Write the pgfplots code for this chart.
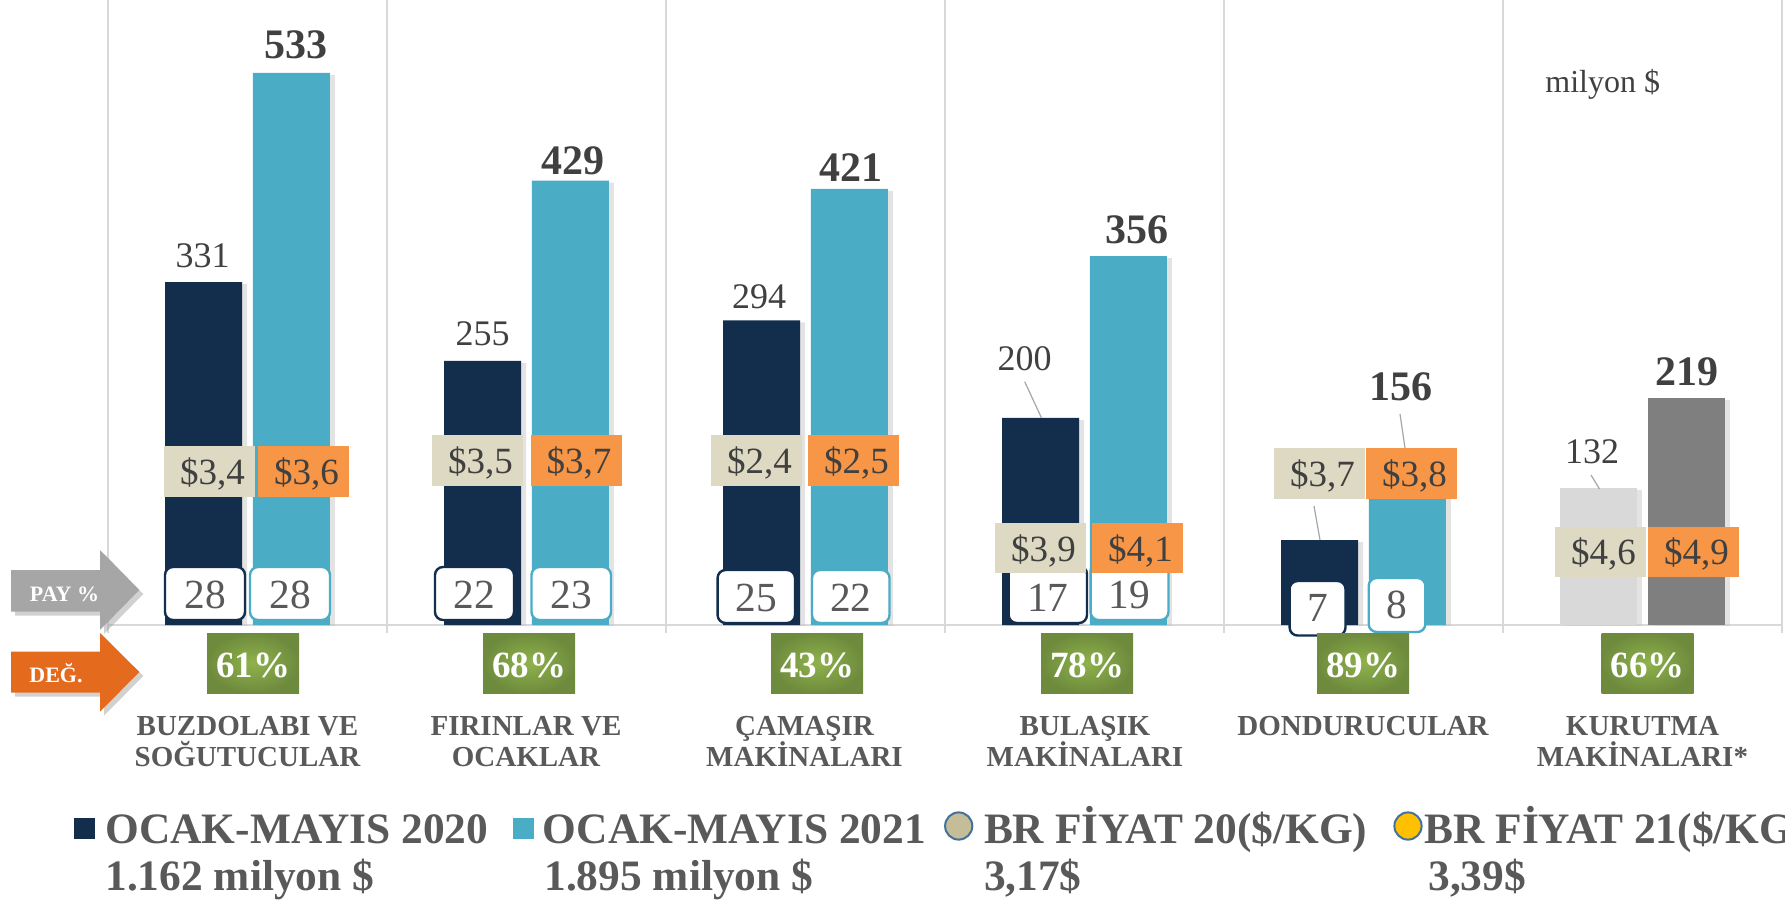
\documentclass[border=0pt]{standalone}
\usepackage{pgfplots}
\pgfplotsset{compat=1.18}
\usepackage{fontspec}
\setmainfont{Liberation Serif}
\usetikzlibrary{shadows}
\definecolor{navy}{HTML}{122E4C}
\definecolor{lblue}{HTML}{4BACC6}
\definecolor{lgray}{HTML}{D9D9D9}
\definecolor{dgray}{HTML}{7F7F7F}
\definecolor{gridgray}{HTML}{D9D9D9}
\definecolor{beige}{HTML}{DDD9C3}
\definecolor{obox}{HTML}{F79646}
\definecolor{ginner}{HTML}{8FB24C}
\definecolor{gouter}{HTML}{6E8B3D}
\definecolor{valtxt}{HTML}{404040}
\definecolor{labtxt}{HTML}{595959}
\definecolor{arrgray}{HTML}{A6A6A6}
\definecolor{arrorange}{HTML}{E46A1E}
\definecolor{legbeige}{HTML}{C4BD97}
\definecolor{legyellow}{HTML}{FFC000}
\definecolor{legborder}{HTML}{41719C}
\definecolor{leader}{HTML}{A6A6A6}
\newcommand{\fs}[1]{\fontsize{#1}{#1}\selectfont}
\begin{document}
\begin{tikzpicture}
\useasboundingbox (0,0) rectangle (892.5pt,451pt);
\begin{axis}[
  at={(54pt,138.5pt)}, anchor=south west,
  scale only axis, width=837pt, height=312.5pt,
  xmin=-0.5, xmax=5.5, ymin=0, ymax=603.3,
  axis x line=bottom, axis y line=none,
  axis line style={-, draw=gridgray, line width=1pt},
  xtick={-0.5,0.5,1.5,2.5,3.5,4.5,5.5}, xticklabels={},
  xmajorgrids, major grid style={draw=gridgray, line width=1pt},
  major tick length=4pt, tick align=outside,
  tick style={draw=gridgray, line width=1pt},
  ytick=\empty,
  ybar, bar width=38.5pt,
]
\addplot[fill=navy, draw=none, bar shift=-21.9pt,
  /tikz/drop shadow={shadow xshift=2.5pt, shadow yshift=-1pt, fill=black!22, draw=none}]
  coordinates {(0,331) (1,255) (2,294) (3,200) (4,82)};
\addplot[fill=lblue, draw=none, bar shift=21.9pt,
  /tikz/drop shadow={shadow xshift=2.5pt, shadow yshift=-1pt, fill=black!22, draw=none}]
  coordinates {(0,533) (1,429) (2,421) (3,356) (4,156)};
\addplot[fill=lgray, draw=none, bar shift=-21.9pt,
  /tikz/drop shadow={shadow xshift=2.5pt, shadow yshift=-1pt, fill=black!22, draw=none}]
  coordinates {(5,132)};
\addplot[fill=dgray, draw=none, bar shift=21.9pt,
  /tikz/drop shadow={shadow xshift=2.5pt, shadow yshift=-1pt, fill=black!22, draw=none}]
  coordinates {(5,219)};
\end{axis}
\begin{scope}[shift={(0pt,451pt)}, x=0.5pt, y=-0.5pt]
% ---- left arrows
\fill[black!40, opacity=0.45] (15,574) -- (104,574) -- (104,554) -- (143.3,594) -- (104,634) -- (104,615.7) -- (15,615.7) -- cycle;
\fill[arrgray] (11,570) -- (100,570) -- (100,550) -- (139.3,590) -- (100,630) -- (100,611.7) -- (11,611.7) -- cycle;
\node[text=white, font=\bfseries\fs{11pt}, anchor=base, inner sep=0] at (64.5,601) {PAY \%};
\fill[black!40, opacity=0.45] (15,655.7) -- (104,655.7) -- (104,637) -- (143.3,676) -- (104,715.7) -- (104,696.7) -- (15,696.7) -- cycle;
\fill[arrorange] (11,651.7) -- (100,651.7) -- (100,633) -- (139.3,672) -- (100,711.7) -- (100,692.7) -- (11,692.7) -- cycle;
\node[text=white, font=\bfseries\fs{11pt}, anchor=base, inner sep=0] at (56,682) {DEĞ.};
% ---- pay % boxes
\tikzset{payn/.style={draw=navy, fill=white, line width=1.2pt, rounded corners=4pt},
         payl/.style={draw=lblue, fill=white, line width=1.2pt, rounded corners=4pt},
         payt/.style={text=labtxt, font=\fs{20.7pt}, anchor=base, inner sep=0}}
\draw[payn] (165,567) rectangle (245,620);   \node[payt] at (205,608.5) {28};
\draw[payl] (250,567) rectangle (330,620);   \node[payt] at (290,608.5) {28};
\draw[payn] (435,567) rectangle (514,620);   \node[payt] at (474.5,608.5) {22};
\draw[payl] (531.5,567) rectangle (611,620); \node[payt] at (571.3,608.5) {23};
\draw[payn] (717.6,570) rectangle (795,623); \node[payt] at (756.3,611.5) {25};
\draw[payl] (812,570) rectangle (889.5,623); \node[payt] at (850.8,611.5) {22};
\draw[payn] (1008.7,566) rectangle (1087,623); \node[payt] at (1047.9,611.5) {17};
\draw[payl] (1090.6,563) rectangle (1168.5,620); \node[payt] at (1129.6,608.5) {19};
\draw[payn] (1289.6,581) rectangle (1345.5,635.5); \node[payt] at (1317.6,621.5) {7};
\draw[payl] (1368.7,578) rectangle (1425.4,632); \node[payt] at (1397,618.5) {8};
% ---- price boxes
\tikzset{prt/.style={text=valtxt, font=\fs{18.5pt}, anchor=base, inner sep=0}}
\fill[beige] (164,446) rectangle (255,497);  \node[prt] at (212.5,484.5) {\$3,4};
\fill[obox] (258,446) rectangle (349,497);   \node[prt] at (306.5,484.5) {\$3,6};
\fill[beige] (432,435) rectangle (523,486);  \node[prt] at (480.5,473.5) {\$3,5};
\fill[obox] (531,435) rectangle (621.5,486); \node[prt] at (579,473.5) {\$3,7};
\fill[beige] (711,435) rectangle (802,486);  \node[prt] at (759.5,473.5) {\$2,4};
\fill[obox] (808,435) rectangle (899,486);   \node[prt] at (856.5,473.5) {\$2,5};
\fill[beige] (995,523) rectangle (1086,573); \node[prt] at (1043.5,561) {\$3,9};
\fill[obox] (1092,523) rectangle (1183,573); \node[prt] at (1140.5,561) {\$4,1};
\fill[beige] (1274,448) rectangle (1365,498.5); \node[prt] at (1322.5,486) {\$3,7};
\fill[obox] (1366,448) rectangle (1457,498.5);  \node[prt] at (1414.5,486) {\$3,8};
\fill[beige] (1555,526.5) rectangle (1646,577); \node[prt] at (1603.5,564.5) {\$4,6};
\fill[obox] (1648,526.5) rectangle (1739,577);  \node[prt] at (1696.5,564.5) {\$4,9};
% ---- leader lines
\draw[leader, line width=0.6pt] (1024.7,381.7) -- (1041.4,417.7);
\draw[leader, line width=0.6pt] (1400,414) -- (1405,448);
\draw[leader, line width=0.6pt] (1314,506) -- (1320,540);
\draw[leader, line width=0.6pt] (1591,475) -- (1599.5,489);
% ---- value labels
\tikzset{vr/.style={text=valtxt, font=\fs{18pt}, anchor=base, inner sep=0},
         vb/.style={text=valtxt, font=\bfseries\fs{21pt}, anchor=base, inner sep=0}}
\node[vr] at (202.5,267) {331};
\node[vb] at (296,58.3) {533};
\node[vr] at (482.5,345) {255};
\node[vb] at (573,175) {429};
\node[vr] at (759,308.3) {294};
\node[vb] at (851,181.7) {421};
\node[vr] at (1024.5,370) {200};
\node[vb] at (1137,243.3) {356};
\node[vb] at (1400.5,400) {156};
\node[vr] at (1592,463) {132};
\node[vb] at (1687,385) {219};
% ---- unit
\node[text=valtxt, font=\fs{16pt}, anchor=base west, inner sep=0] at (1545,92.7) {milyon \$};
% ---- green change boxes
\tikzset{gt/.style={text=white, font=\bfseries\fs{18.5pt}, anchor=base, inner sep=0}}
\foreach \cx/\t in {253/61, 529/68, 817/43, 1087/78, 1363/89, 1647.5/66}{
  \shade[inner color=ginner, outer color=gouter] ({\cx-46},633) rectangle ({\cx+46},693);
  \node[gt] at (\cx,677) {\t\%};
}
% ---- category labels
\tikzset{ct/.style={text=labtxt, font=\bfseries\fs{14.5pt}, anchor=base, inner sep=0}}
\node[ct] at (247.5,735) {BUZDOLABI VE};   \node[ct] at (247.5,766.7) {SOĞUTUCULAR};
\node[ct] at (526,735) {FIRINLAR VE};      \node[ct] at (526,766.7) {OCAKLAR};
\node[ct] at (804.5,735) {ÇAMAŞIR};        \node[ct] at (804.5,766.7) {MAKİNALARI};
\node[ct] at (1085,735) {BULAŞIK};         \node[ct] at (1085,766.7) {MAKİNALARI};
\node[ct] at (1363,735) {DONDURUCULAR};
\node[ct] at (1642.5,735) {KURUTMA};       \node[ct] at (1642.5,766.7) {MAKİNALARI*};
% ---- legend
\tikzset{lt/.style={text=labtxt, font=\bfseries\fs{21.7pt}, anchor=base west, inner sep=0}}
\fill[navy] (74,818) rectangle (94.5,839);
\node[lt] at (105,843) {OCAK-MAYIS 2020};
\node[lt] at (105,890) {1.162 milyon \$};
\fill[lblue] (513,818) rectangle (533.5,839);
\node[lt] at (542.5,843) {OCAK-MAYIS 2021};
\node[lt] at (544,890) {1.895 milyon \$};
\draw[fill=legbeige, draw=legborder, line width=1pt] (958.7,826) circle [radius=6.8pt];
\node[lt] at (983.6,843) {BR FİYAT 20(\$/KG)};
\node[lt] at (983.6,890) {3,17\$};
\draw[fill=legyellow, draw=legborder, line width=1pt] (1408,826) circle [radius=6.8pt];
\node[lt] at (1424,843) {BR FİYAT 21(\$/KG)};
\node[lt] at (1428,890) {3,39\$};
\end{scope}
\end{tikzpicture}
\end{document}
